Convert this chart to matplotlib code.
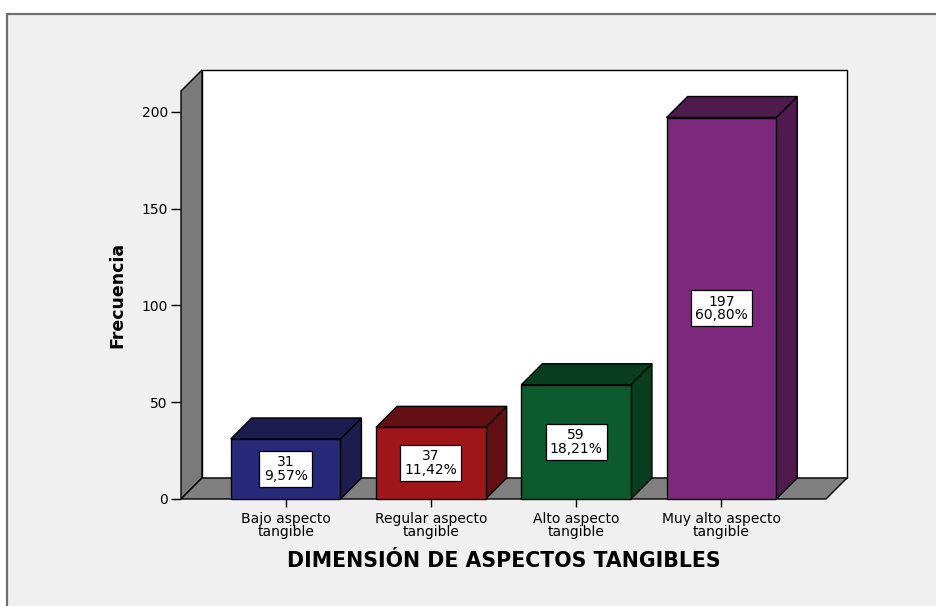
import numpy as np
import matplotlib
matplotlib.use('Agg')
import matplotlib.pyplot as plt
from matplotlib.patches import Polygon, Rectangle

## data
categorias = ['Bajo aspecto\ntangible', 'Regular aspecto\ntangible',
              'Alto aspecto\ntangible', 'Muy alto aspecto\ntangible']
frecuencias = [31, 37, 59, 197]
color_frente = ['#272A78', '#A0171B', '#0C5A2E', '#7C287C']
color_sombra = ['#1C1C4E', '#621013', '#083D20', '#4F1A4C']

total = sum(frecuencias)
porcentajes = [100.0 * f / total for f in frecuencias]

## layout
W, H = 936, 606
fig = plt.figure(figsize=(W / 100, H / 100), dpi=100)
fig.patch.set_facecolor('white')

# gray panel behind the chart
fig.patches.append(Rectangle((7 / W, -0.05), 1.1, (H - 14) / H + 0.05,
                             transform=fig.transFigure, facecolor='#F0F0F0',
                             edgecolor='#6E6E6E', linewidth=1.6, zorder=-1))

ax = fig.add_axes([181 / W, 1 - 499 / H, 645 / W, 408 / H])
ax.patch.set_visible(False)
for s in ax.spines.values():
    s.set_visible(False)

x0, x1 = -0.72, 3.72
ymax = 210.7
ax.set_xlim(x0, x1)
ax.set_ylim(0, ymax)

# depth offset of the 3d box, 21 px back and up
depth_px = 21
ddx = depth_px / (645 / (x1 - x0))
ddy = depth_px / (408 / ymax)

edge = dict(edgecolor='black', linewidth=1.0, clip_on=False, joinstyle='miter')

# back wall, left wall, floor
ax.add_patch(Polygon([(x0 + ddx, ddy), (x1 + ddx, ddy), (x1 + ddx, ymax + ddy),
                      (x0 + ddx, ymax + ddy)], facecolor='white', zorder=1, **edge))
ax.add_patch(Polygon([(x0, 0), (x0, ymax), (x0 + ddx, ymax + ddy), (x0 + ddx, ddy)],
                     facecolor='#7A7A7A', zorder=2, **edge))
ax.add_patch(Polygon([(x0, 0), (x1, 0), (x1 + ddx, ddy), (x0 + ddx, ddy)],
                     facecolor='#808080', zorder=2, **edge))

ancho = 0.755
for i, (f, p) in enumerate(zip(frecuencias, porcentajes)):
    l, r = i - ancho / 2, i + ancho / 2
    ax.add_patch(Polygon([(r, 0), (r + ddx, ddy), (r + ddx, f + ddy), (r, f)],
                         facecolor=color_sombra[i], zorder=3, **edge))
    ax.add_patch(Polygon([(l, f), (r, f), (r + ddx, f + ddy), (l + ddx, f + ddy)],
                         facecolor=color_sombra[i], zorder=3, **edge))
    ax.add_patch(Polygon([(l, 0), (r, 0), (r, f), (l, f)],
                         facecolor=color_frente[i], zorder=4, **edge))
    etiqueta = '%d\n%s%%' % (f, ('%.2f' % p).replace('.', ','))
    ax.text(i, f / 2, etiqueta, ha='center', va='center', fontsize=10,
            linespacing=0.95, zorder=5,
            bbox=dict(boxstyle='square,pad=0.3', facecolor='white',
                      edgecolor='black', linewidth=0.9))

ax.set_yticks([0, 50, 100, 150, 200])
ax.set_xticks(range(len(categorias)))
ax.set_xticklabels(categorias, fontsize=10, linespacing=0.95)
ax.tick_params(axis='y', length=7.5, width=1, pad=2, labelsize=10)
ax.tick_params(axis='x', length=6, width=1, pad=3)

fig.text(117 / W, 1 - 295 / H, 'Frecuencia', rotation=90, ha='center', va='center',
         fontsize=12.5, fontweight='bold')
fig.text(503.5 / W, 1 - 561 / H, 'DIMENSIÓN DE ASPECTOS TANGIBLES', ha='center',
         va='center', fontsize=14.8, fontweight='bold')

fig.savefig('out.png', dpi=100)
